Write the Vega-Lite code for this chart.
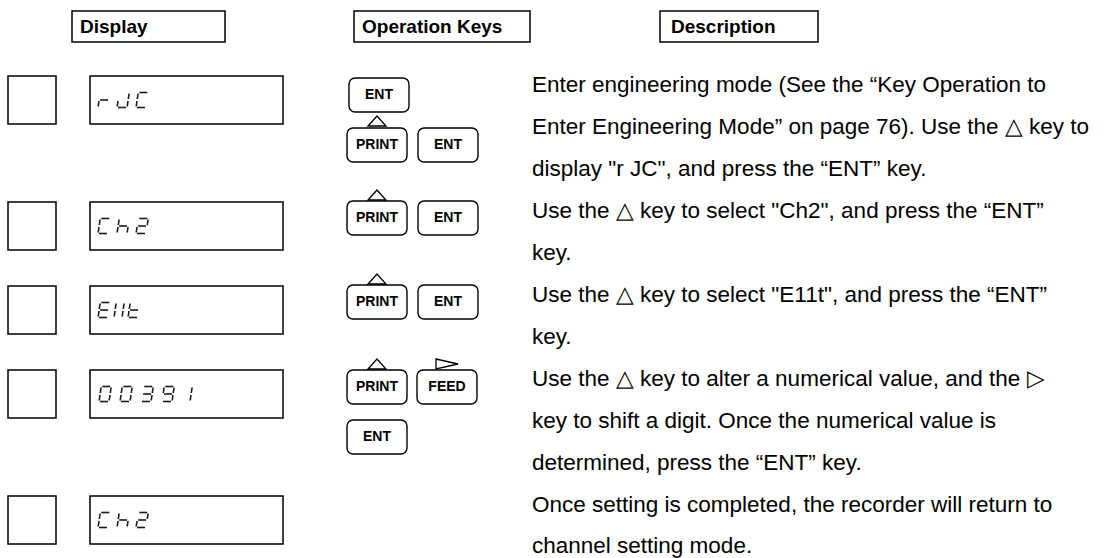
{
  "$schema": "https://vega.github.io/schema/vega-lite/v6.json",
  "width": 1119,
  "height": 558,
  "padding": 0,
  "autosize": {"type": "none"},
  "background": "white",
  "config": {"view": {"stroke": null}},
  "datasets": {
    "frames": [
      {"x1": 72, "x2": 225, "y1": 11, "y2": 42},
      {"x1": 354, "x2": 530, "y1": 11, "y2": 42},
      {"x1": 660, "x2": 818, "y1": 11, "y2": 42},
      {"x1": 8, "x2": 56, "y1": 76, "y2": 124},
      {"x1": 90, "x2": 283, "y1": 76, "y2": 124},
      {"x1": 8, "x2": 56, "y1": 202, "y2": 250},
      {"x1": 90, "x2": 283, "y1": 202, "y2": 250},
      {"x1": 8, "x2": 56, "y1": 286, "y2": 334},
      {"x1": 90, "x2": 283, "y1": 286, "y2": 334},
      {"x1": 8, "x2": 56, "y1": 370, "y2": 418},
      {"x1": 90, "x2": 283, "y1": 370, "y2": 418},
      {"x1": 8, "x2": 56, "y1": 496, "y2": 544},
      {"x1": 90, "x2": 283, "y1": 496, "y2": 544}
    ],
    "headers": [
      {"x": 80, "y": 27, "text": "Display"},
      {"x": 362, "y": 27, "text": "Operation Keys"},
      {"x": 671, "y": 27, "text": "Description"}
    ],
    "segments": [
      {"sx": 100.1, "sy": 100, "ex": 108.1, "ey": 100},
      {"sx": 99, "sy": 101, "ex": 98.2, "ey": 106.5},
      {"sx": 129.1, "sy": 93.5, "ex": 128.3, "ey": 99},
      {"sx": 128, "sy": 101, "ex": 127.2, "ey": 106.5},
      {"sx": 118, "sy": 107.5, "ex": 126, "ey": 107.5},
      {"sx": 118, "sy": 101, "ex": 117.2, "ey": 106.5},
      {"sx": 139.3, "sy": 92.5, "ex": 147.3, "ey": 92.5},
      {"sx": 137, "sy": 107.5, "ex": 145, "ey": 107.5},
      {"sx": 137, "sy": 101, "ex": 136.2, "ey": 106.5},
      {"sx": 138.1, "sy": 93.5, "ex": 137.3, "ey": 99},

      {"sx": 101.3, "sy": 218.5, "ex": 109.3, "ey": 218.5},
      {"sx": 99, "sy": 233.5, "ex": 107, "ey": 233.5},
      {"sx": 99, "sy": 227, "ex": 98.2, "ey": 232.5},
      {"sx": 100.1, "sy": 219.5, "ex": 99.3, "ey": 225},
      {"sx": 128, "sy": 227, "ex": 127.2, "ey": 232.5},
      {"sx": 118, "sy": 227, "ex": 117.2, "ey": 232.5},
      {"sx": 119.1, "sy": 219.5, "ex": 118.3, "ey": 225},
      {"sx": 119.1, "sy": 226, "ex": 127.1, "ey": 226},
      {"sx": 139.3, "sy": 218.5, "ex": 147.3, "ey": 218.5},
      {"sx": 148.1, "sy": 219.5, "ex": 147.3, "ey": 225},
      {"sx": 138.1, "sy": 226, "ex": 146.1, "ey": 226},
      {"sx": 137, "sy": 227, "ex": 136.2, "ey": 232.5},
      {"sx": 137, "sy": 233.5, "ex": 145, "ey": 233.5},

      {"sx": 101.3, "sy": 302.5, "ex": 109.3, "ey": 302.5},
      {"sx": 99, "sy": 317.5, "ex": 107, "ey": 317.5},
      {"sx": 99, "sy": 311, "ex": 98.2, "ey": 316.5},
      {"sx": 100.1, "sy": 303.5, "ex": 99.3, "ey": 309},
      {"sx": 100.1, "sy": 310, "ex": 108.1, "ey": 310},
      {"sx": 115, "sy": 311, "ex": 114.2, "ey": 316.5},
      {"sx": 116.1, "sy": 303.5, "ex": 115.3, "ey": 309},
      {"sx": 123, "sy": 311, "ex": 122.2, "ey": 316.5},
      {"sx": 124.1, "sy": 303.5, "ex": 123.3, "ey": 309},
      {"sx": 129, "sy": 317.5, "ex": 137, "ey": 317.5},
      {"sx": 129, "sy": 311, "ex": 128.2, "ey": 316.5},
      {"sx": 130.1, "sy": 303.5, "ex": 129.3, "ey": 309},
      {"sx": 130.1, "sy": 310, "ex": 138.1, "ey": 310},

      {"sx": 102.3, "sy": 386.5, "ex": 110.3, "ey": 386.5},
      {"sx": 111.1, "sy": 387.5, "ex": 110.3, "ey": 393},
      {"sx": 110, "sy": 395, "ex": 109.2, "ey": 400.5},
      {"sx": 100, "sy": 401.5, "ex": 108, "ey": 401.5},
      {"sx": 100, "sy": 395, "ex": 99.2, "ey": 400.5},
      {"sx": 101.1, "sy": 387.5, "ex": 100.3, "ey": 393},
      {"sx": 123.3, "sy": 386.5, "ex": 131.3, "ey": 386.5},
      {"sx": 132.1, "sy": 387.5, "ex": 131.3, "ey": 393},
      {"sx": 131, "sy": 395, "ex": 130.2, "ey": 400.5},
      {"sx": 121, "sy": 401.5, "ex": 129, "ey": 401.5},
      {"sx": 121, "sy": 395, "ex": 120.2, "ey": 400.5},
      {"sx": 122.1, "sy": 387.5, "ex": 121.3, "ey": 393},
      {"sx": 144.3, "sy": 386.5, "ex": 152.3, "ey": 386.5},
      {"sx": 153.1, "sy": 387.5, "ex": 152.3, "ey": 393},
      {"sx": 152, "sy": 395, "ex": 151.2, "ey": 400.5},
      {"sx": 142, "sy": 401.5, "ex": 150, "ey": 401.5},
      {"sx": 143.1, "sy": 394, "ex": 151.1, "ey": 394},
      {"sx": 165.3, "sy": 386.5, "ex": 173.3, "ey": 386.5},
      {"sx": 174.1, "sy": 387.5, "ex": 173.3, "ey": 393},
      {"sx": 173, "sy": 395, "ex": 172.2, "ey": 400.5},
      {"sx": 163, "sy": 401.5, "ex": 171, "ey": 401.5},
      {"sx": 164.1, "sy": 387.5, "ex": 163.3, "ey": 393},
      {"sx": 164.1, "sy": 394, "ex": 172.1, "ey": 394},
      {"sx": 192.1, "sy": 387.5, "ex": 191.3, "ey": 393},
      {"sx": 191, "sy": 395, "ex": 190.2, "ey": 400.5},

      {"sx": 101.3, "sy": 512.5, "ex": 109.3, "ey": 512.5},
      {"sx": 99, "sy": 527.5, "ex": 107, "ey": 527.5},
      {"sx": 99, "sy": 521, "ex": 98.2, "ey": 526.5},
      {"sx": 100.1, "sy": 513.5, "ex": 99.3, "ey": 519},
      {"sx": 128, "sy": 521, "ex": 127.2, "ey": 526.5},
      {"sx": 118, "sy": 521, "ex": 117.2, "ey": 526.5},
      {"sx": 119.1, "sy": 513.5, "ex": 118.3, "ey": 519},
      {"sx": 119.1, "sy": 520, "ex": 127.1, "ey": 520},
      {"sx": 139.3, "sy": 512.5, "ex": 147.3, "ey": 512.5},
      {"sx": 148.1, "sy": 513.5, "ex": 147.3, "ey": 519},
      {"sx": 138.1, "sy": 520, "ex": 146.1, "ey": 520},
      {"sx": 137, "sy": 521, "ex": 136.2, "ey": 526.5},
      {"sx": 137, "sy": 527.5, "ex": 145, "ey": 527.5}
    ],
    "keys": [
      {"x1": 349, "x2": 409, "y1": 78, "y2": 112, "cx": 379, "cy": 95, "label": "ENT"},
      {"x1": 347, "x2": 407, "y1": 128, "y2": 162, "cx": 377, "cy": 145, "label": "PRINT"},
      {"x1": 418, "x2": 478, "y1": 128, "y2": 162, "cx": 448, "cy": 145, "label": "ENT"},
      {"x1": 347, "x2": 407, "y1": 201, "y2": 235, "cx": 377, "cy": 218, "label": "PRINT"},
      {"x1": 418, "x2": 478, "y1": 201, "y2": 235, "cx": 448, "cy": 218, "label": "ENT"},
      {"x1": 347, "x2": 407, "y1": 285, "y2": 319, "cx": 377, "cy": 302, "label": "PRINT"},
      {"x1": 418, "x2": 478, "y1": 285, "y2": 319, "cx": 448, "cy": 302, "label": "ENT"},
      {"x1": 347, "x2": 407, "y1": 370, "y2": 404, "cx": 377, "cy": 387, "label": "PRINT"},
      {"x1": 417, "x2": 477, "y1": 370, "y2": 404, "cx": 447, "cy": 387, "label": "FEED"},
      {"x1": 347, "x2": 407, "y1": 420, "y2": 454, "cx": 377, "cy": 437, "label": "ENT"}
    ],
    "arrows": [
      {"x": 377, "y": 121, "dir": "up"},
      {"x": 377, "y": 195, "dir": "up"},
      {"x": 377, "y": 279, "dir": "up"},
      {"x": 377, "y": 364, "dir": "up"},
      {"x": 447, "y": 364, "dir": "right"}
    ],
    "lines": [
      {"x": 532, "y": 85, "text": "Enter engineering mode (See the “Key Operation to"},
      {"x": 532, "y": 127, "text": "Enter Engineering Mode” on page 76). Use the △ key to"},
      {"x": 532, "y": 169, "text": "display \"r JC\", and press the “ENT” key."},
      {"x": 532, "y": 211, "text": "Use the △ key to select \"Ch2\", and press the “ENT”"},
      {"x": 532, "y": 253, "text": "key."},
      {"x": 532, "y": 295, "text": "Use the △ key to select \"E11t\", and press the “ENT”"},
      {"x": 532, "y": 337, "text": "key."},
      {"x": 532, "y": 379, "text": "Use the △ key to alter a numerical value, and the ▷"},
      {"x": 532, "y": 421, "text": "key to shift a digit. Once the numerical value is"},
      {"x": 532, "y": 463, "text": "determined, press the “ENT” key."},
      {"x": 532, "y": 505, "text": "Once setting is completed, the recorder will return to"},
      {"x": 532, "y": 546, "text": "channel setting mode."}
    ]
  },
  "layer": [
    {
      "data": {"name": "frames"},
      "mark": {"type": "rect", "fill": "white", "stroke": "black", "strokeWidth": 1.5},
      "encoding": {
        "x": {"field": "x1", "type": "quantitative", "scale": {"domain": [0, 1119], "nice": false, "zero": false}, "axis": null},
        "x2": {"field": "x2"},
        "y": {"field": "y1", "type": "quantitative", "scale": {"domain": [0, 558], "nice": false, "zero": false, "reverse": true}, "axis": null},
        "y2": {"field": "y2"}
      }
    },
    {
      "data": {"name": "segments"},
      "mark": {"type": "rule", "stroke": "#1a1a1a", "strokeWidth": 1.6, "strokeCap": "butt"},
      "encoding": {
        "x": {"field": "sx", "type": "quantitative"},
        "x2": {"field": "ex"},
        "y": {"field": "sy", "type": "quantitative"},
        "y2": {"field": "ey"}
      }
    },
    {
      "data": {"name": "keys"},
      "mark": {"type": "rect", "fill": "white", "stroke": "black", "strokeWidth": 1.4, "cornerRadius": 6},
      "encoding": {
        "x": {"field": "x1", "type": "quantitative"},
        "x2": {"field": "x2"},
        "y": {"field": "y1", "type": "quantitative"},
        "y2": {"field": "y2"}
      }
    },
    {
      "data": {"name": "keys"},
      "mark": {"type": "text", "font": "Liberation Sans", "fontWeight": "bold", "fontSize": 14, "align": "center", "baseline": "middle", "color": "black"},
      "encoding": {
        "x": {"field": "cx", "type": "quantitative"},
        "y": {"field": "cy", "type": "quantitative"},
        "text": {"field": "label"}
      }
    },
    {
      "data": {"name": "arrows"},
      "mark": {"type": "point", "filled": false, "stroke": "black", "strokeWidth": 1.3, "size": 400, "opacity": 1},
      "encoding": {
        "x": {"field": "x", "type": "quantitative"},
        "y": {"field": "y", "type": "quantitative"},
        "shape": {"field": "dir", "type": "nominal", "legend": null, "scale": {"domain": ["up", "right"], "range": ["M-0.9,0.5L0,-0.5L0.9,0.5Z", "M-1.1,-0.5L1.1,0L-1.1,0.5Z"]}}
      }
    },
    {
      "data": {"name": "headers"},
      "mark": {"type": "text", "font": "Liberation Sans", "fontWeight": "bold", "fontSize": 19, "align": "left", "baseline": "middle", "color": "black"},
      "encoding": {
        "x": {"field": "x", "type": "quantitative"},
        "y": {"field": "y", "type": "quantitative"},
        "text": {"field": "text"}
      }
    },
    {
      "data": {"name": "lines"},
      "mark": {"type": "text", "font": "Liberation Sans", "fontSize": 22.5, "align": "left", "baseline": "middle", "color": "black"},
      "encoding": {
        "x": {"field": "x", "type": "quantitative"},
        "y": {"field": "y", "type": "quantitative"},
        "text": {"field": "text"}
      }
    }
  ]
}
